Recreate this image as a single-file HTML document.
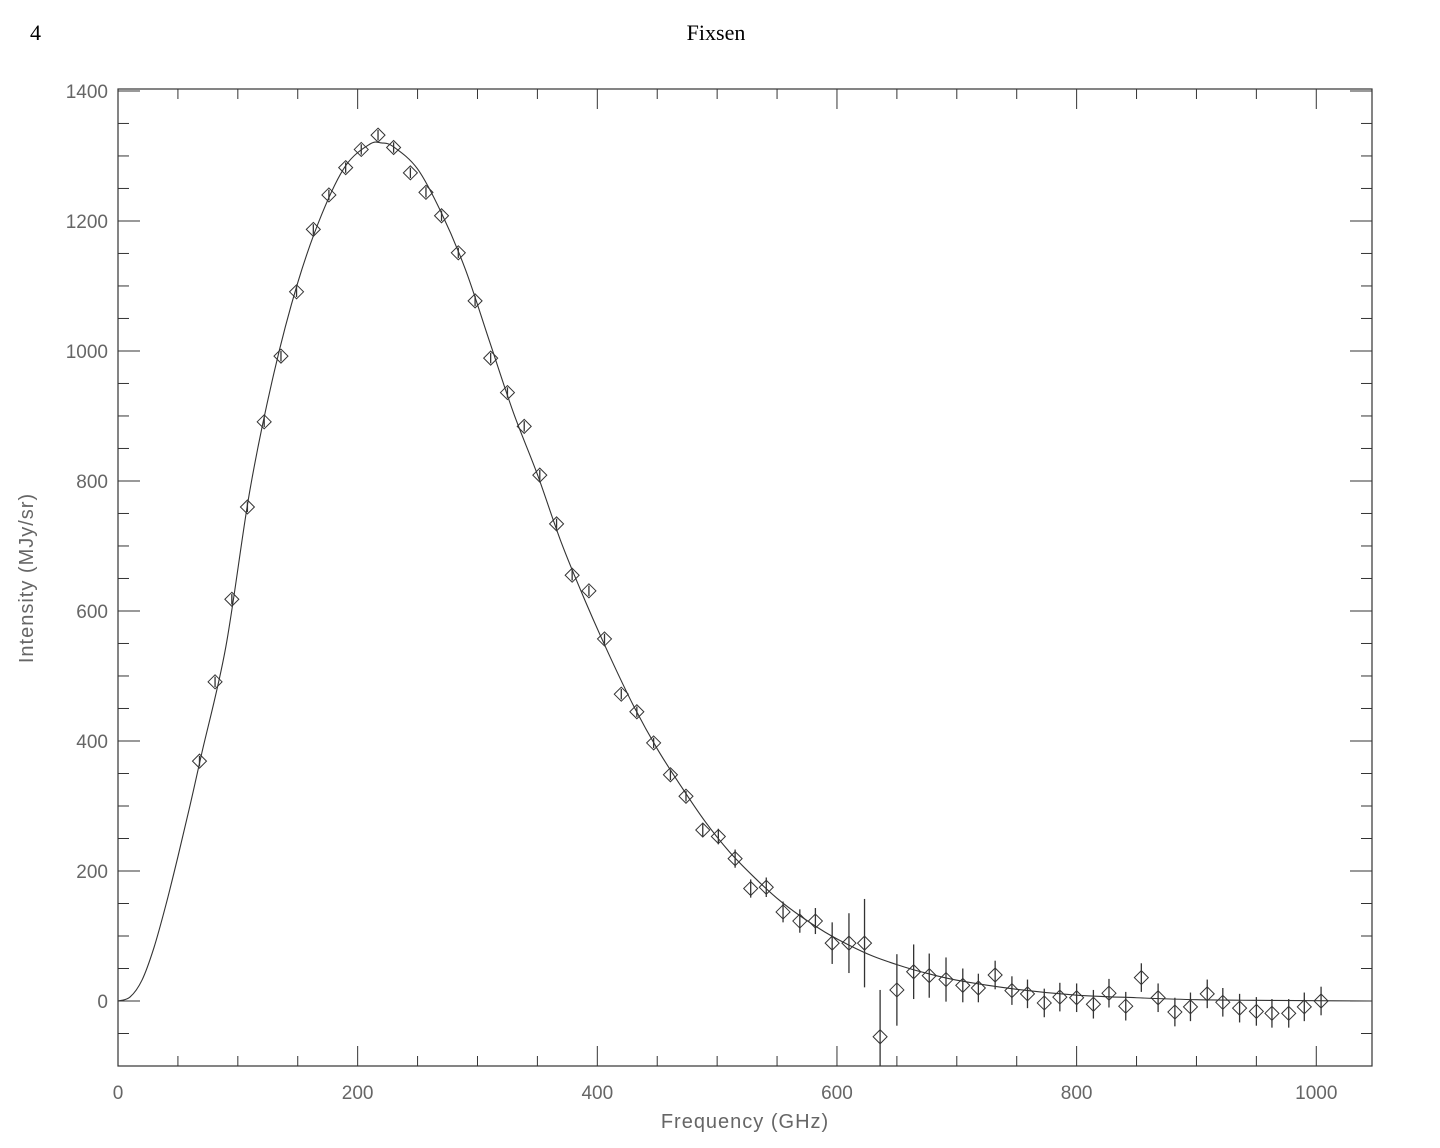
<!DOCTYPE html>
<html><head><meta charset="utf-8"><style>
body{margin:0;background:#fff;width:1440px;height:1148px;overflow:hidden}
svg{display:block}
</style></head><body>
<svg id="chart" width="1440" height="1148" xmlns="http://www.w3.org/2000/svg">
<text x="30" y="40" font-family="Liberation Serif, serif" font-size="22" fill="#000">4</text>
<text x="716" y="40" text-anchor="middle" font-family="Liberation Serif, serif" font-size="22" fill="#000">Fixsen</text>
<g id="axes"></g><g id="marks"></g>
</svg>
<script>
const freqs=[68,81,95,108,122,136,149,163,176,190,203,217,230,244,257,270,284,298,311,325,339,352,366,379,393,406,420,433,447,461,474,488,501,515,528,541,555,569,582,596,610,623,636,650,664,677,691,705,718,732,746,759,773,786,800,814,827,841,854,868,882,895,909,922,936,950,963,977,990,1004];
const intens=[369,491,618,760,891,992,1091,1187,1240,1282,1310,1332,1313,1274,1244,1208,1151,1077,989,936,884,809,734,655,631,557,472,445,397,348,315,263,253,219,173,175,137,123,123,89,89,89,-55,17,45,39,33,24,20,40,16,11,-3,6,5,-5,12,-8,36,5,-17,-9,11,-2,-11,-16,-19,-19,-9,0];
const errs=[8,8,8,8,8,8,8,8,8,8,8,8,8,8,8,8,8,8,8,8,8,8,8,8,8,8,8,8,8,8,8,10,12,14,14,15,16,18,20,32,46,68,72,55,42,34,34,26,22,22,22,22,22,22,22,22,22,22,22,22,22,22,22,22,22,22,22,22,22,22];
const curveF=[0,10,20,30,40,50,60,70,90,110,130,150,170,190,210,220,230,250,270,290,310,330,350,370,390,410,430,450,470,490,510,530,550,570,590,610,630,650,670,700,750,800,850,900,950,1000,1046];
const curveV=[0,6,32,82,148,222,300,382,545,785,965,1105,1210,1285,1318,1320,1314,1280,1212,1125,1015,905,810,705,615,532,455,388,330,276,230,192,158,130,106,86,69,56,45,32,18,9,5,2,1,0.5,0];
const xTicks=[0,200,400,600,800,1000];
const yTicks=[0,200,400,600,800,1000,1200,1400];
const X0=118,X1=1372,Y0=1066,Y1=89,XMAX=1046.5,YMIN=-100,YMAX=1403;
const sx=v=>X0+v/XMAX*(X1-X0);
const sy=v=>Y0-(v-YMIN)/(YMAX-YMIN)*(Y0-Y1);
const NS='http://www.w3.org/2000/svg';
function mk(t,a,p){const e=document.createElementNS(NS,t);for(const k in a)e.setAttribute(k,a[k]);p.appendChild(e);return e;}
const ax=document.getElementById('axes'),mg=document.getElementById('marks');
const frame=mk('rect',{x:X0,y:Y1,width:X1-X0,height:Y0-Y1,fill:'none',stroke:'#333','stroke-width':1.2},ax);


const tf='Liberation Sans, DejaVu Sans, sans-serif';
for(let v=0;v<=1046;v+=50){const x=sx(v),L=v%200===0?20:10;
mk('line',{x1:x,x2:x,y1:Y0,y2:Y0-L,stroke:'#333'},ax);mk('line',{x1:x,x2:x,y1:Y1,y2:Y1+L,stroke:'#333'},ax);}
for(let v=-100;v<=1400;v+=50){const y=sy(v),L=v%200===0?22:11;
mk('line',{x1:X0,x2:X0+L,y1:y,y2:y,stroke:'#333'},ax);mk('line',{x1:X1,x2:X1-L,y1:y,y2:y,stroke:'#333'},ax);}
xTicks.forEach(v=>{const t=mk('text',{x:sx(v),y:Y0+33,'text-anchor':'middle','font-family':tf,'font-size':19,fill:'#666'},ax);t.textContent=v;

});
yTicks.forEach(v=>{const t=mk('text',{x:X0-10,y:sy(v)+7,'text-anchor':'end','font-family':tf,'font-size':19,fill:'#666'},ax);t.textContent=v;

});
const xt=mk('text',{x:745,y:1128,'text-anchor':'middle','font-family':tf,'font-size':20,fill:'#666','letter-spacing':'1'},ax);xt.textContent='Frequency (GHz)';


const yt=mk('text',{x:0,y:0,'text-anchor':'middle','font-family':tf,'font-size':20,fill:'#666','letter-spacing':'1',transform:'translate(33,578) rotate(-90)'},ax);yt.textContent='Intensity (MJy/sr)';


// curve (Catmull-Rom through read points)
const P=curveF.map((f,i)=>[sx(f),sy(curveV[i])]);
let d='M'+P[0][0]+','+P[0][1];
for(let i=0;i<P.length-1;i++){const p0=P[Math.max(0,i-1)],p1=P[i],p2=P[i+1],p3=P[Math.min(P.length-1,i+2)];
d+=' C'+(p1[0]+(p2[0]-p0[0])/6)+','+(p1[1]+(p2[1]-p0[1])/6)+' '+(p2[0]-(p3[0]-p1[0])/6)+','+(p2[1]-(p3[1]-p1[1])/6)+' '+p2[0]+','+p2[1];}
const c=mk('path',{d:d,fill:'none',stroke:'#333','stroke-width':1.1},mg);


freqs.forEach((f,i)=>{const x=sx(f),y=sy(intens[i]),e=Math.max(errs[i]*0.65,0);
const g=mk('g',{},mg);


mk('line',{x1:x,x2:x,y1:Math.max(Y1,y-e),y2:Math.min(Y0,y+e),stroke:'#333','stroke-width':1.3},g);
mk('path',{d:`M${x},${y-7}L${x+7},${y}L${x},${y+7}L${x-7},${y}Z`,fill:'none',stroke:'#333','stroke-width':1},g);});
</script>
</body></html>
